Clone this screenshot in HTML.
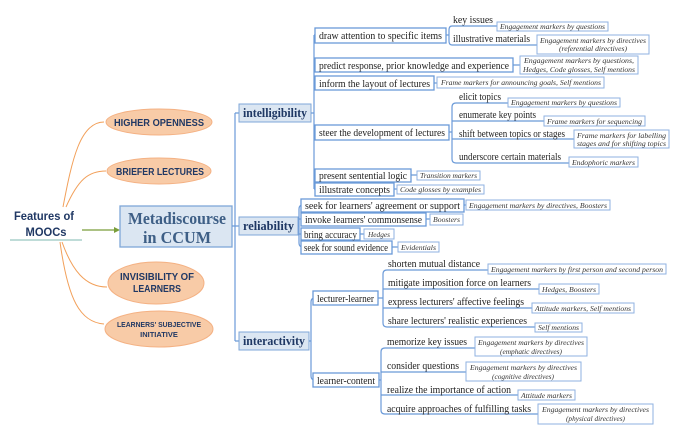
<!DOCTYPE html>
<html><head><meta charset="utf-8"><style>
html,body{margin:0;padding:0;background:#fff;}
svg{display:block;}
.b{fill:#fff;stroke:#6b9ad8;stroke-width:1.3;}
.l{fill:#fff;stroke:#8fb2e0;stroke-width:1;}
.t{font-family:"Liberation Serif",serif;font-size:10.5px;fill:#222;}
.i{font-family:"Liberation Serif",serif;font-size:7.3px;font-style:italic;fill:#333;}
.k{fill:none;stroke:#6b9ad8;stroke-width:1.2;}
.h{font-family:"Liberation Serif",serif;font-size:12.5px;font-weight:bold;fill:#1f3864;}
.e{fill:#f8cba7;stroke:#f4b183;stroke-width:1;}
.et{font-family:"Liberation Sans",sans-serif;font-weight:bold;fill:#203864;text-anchor:middle;}
.o{fill:none;stroke:#f2a05a;stroke-width:1;}
</style></head><body>
<svg width="697" height="442" viewBox="0 0 697 442" xmlns="http://www.w3.org/2000/svg">
<!-- left -->
<text x="44" y="220" class="et" font-size="11.5" textLength="60" lengthAdjust="spacingAndGlyphs">Features of</text>
<text x="46" y="236" class="et" font-size="11.5" textLength="41" lengthAdjust="spacingAndGlyphs">MOOCs</text>
<line x1="10" y1="240" x2="82" y2="240" stroke="#7fb8b0" stroke-width="1"/>
<line x1="82" y1="230" x2="118" y2="230" stroke="#7a9e3a" stroke-width="1.2"/>
<path d="M114,227 L120,230 L114,233z" fill="#7a9e3a"/>
<path class="o" d="M63,207 C72,160 80,122 104,122"/>
<path class="o" d="M66,207 C78,180 88,171 106,171"/>
<path class="o" d="M62,242 C72,270 85,287 107,287"/>
<path class="o" d="M60,242 C68,300 80,322 104,324"/>
<ellipse class="e" cx="159" cy="122" rx="53" ry="13"/>
<text x="159" y="126" class="et" font-size="10" textLength="90" lengthAdjust="spacingAndGlyphs">HIGHER OPENNESS</text>
<ellipse class="e" cx="159" cy="171" rx="52" ry="13"/>
<text x="160" y="175" class="et" font-size="10" textLength="88" lengthAdjust="spacingAndGlyphs">BRIEFER LECTURES</text>
<ellipse class="e" cx="156" cy="283" rx="48" ry="21"/>
<text x="157" y="280" class="et" font-size="10" textLength="74" lengthAdjust="spacingAndGlyphs">INVISIBILITY OF</text>
<text x="157" y="292" class="et" font-size="10" textLength="48" lengthAdjust="spacingAndGlyphs">LEARNERS</text>
<ellipse class="e" cx="159" cy="329" rx="54" ry="18"/>
<text x="159" y="327" class="et" font-size="7.5" textLength="84" lengthAdjust="spacingAndGlyphs">LEARNERS' SUBJECTIVE</text>
<text x="159" y="337" class="et" font-size="7.5">INITIATIVE</text>
<!-- center -->
<rect x="120" y="206" width="112" height="41" fill="#dbe6f2" stroke="#7fa7d8" stroke-width="1.3"/>
<text x="177" y="224" text-anchor="middle" font-family="Liberation Serif,serif" font-weight="bold" font-size="17" fill="#3e5f86" textLength="98" lengthAdjust="spacingAndGlyphs">Metadiscourse</text>
<text x="177" y="243" text-anchor="middle" font-family="Liberation Serif,serif" font-weight="bold" font-size="17" fill="#3e5f86" textLength="68" lengthAdjust="spacingAndGlyphs">in CCUM</text>
<path class="k" d="M232,226 H235 M235,113 V341 M235,113 H239 M235,226 H239 M235,341 H239"/>
<!-- level 1 -->
<rect x="239" y="104" width="72" height="18" fill="#dbe6f2" stroke="#7fa7d8"/>
<text x="243" y="117" class="h" textLength="64" lengthAdjust="spacingAndGlyphs">intelligibility</text>
<rect x="239" y="217" width="59" height="18" fill="#dbe6f2" stroke="#7fa7d8"/>
<text x="243" y="230" class="h" textLength="51" lengthAdjust="spacingAndGlyphs">reliability</text>
<rect x="239" y="332" width="70" height="18" fill="#dbe6f2" stroke="#7fa7d8"/>
<text x="243" y="345" class="h" textLength="62" lengthAdjust="spacingAndGlyphs">interactivity</text>
<!-- intelligibility bracket -->
<path class="k" d="M311,113 H314 M314,35 V189 M314,35 H315 M314,65 H315 M314,83 H315 M314,132 H315 M314,175 H315 M314,189 H315"/>
<rect class="b" x="315" y="28" width="131" height="15"/><text class="t" x="319" y="39" textLength="123" lengthAdjust="spacingAndGlyphs">draw attention to specific items</text>
<rect class="b" x="315" y="58" width="198" height="14"/><text class="t" x="319" y="69" textLength="190" lengthAdjust="spacingAndGlyphs">predict response, prior knowledge and experience</text>
<rect class="b" x="315" y="76" width="119" height="14"/><text class="t" x="319" y="87" textLength="111" lengthAdjust="spacingAndGlyphs">inform the layout of lectures</text>
<rect class="b" x="315" y="125" width="134" height="15"/><text class="t" x="319" y="136" textLength="126" lengthAdjust="spacingAndGlyphs">steer the development of lectures</text>
<rect class="b" x="315" y="169" width="96" height="13"/><text class="t" x="319" y="179" textLength="88" lengthAdjust="spacingAndGlyphs">present sentential logic</text>
<rect class="b" x="315" y="183" width="79" height="13"/><text class="t" x="319" y="193" textLength="71" lengthAdjust="spacingAndGlyphs">illustrate concepts</text>
<!-- draw attention children -->
<path class="k" d="M446,35 H449 M452,26 Q449,26 449,30 V41 Q449,45 452,45 M452,26 H497 M452,45 H537"/>
<text class="t" x="453" y="23" textLength="40" lengthAdjust="spacingAndGlyphs">key issues</text>
<text class="t" x="453" y="42" textLength="77" lengthAdjust="spacingAndGlyphs">illustrative  materials</text>
<rect class="l" x="497" y="22" width="111" height="9"/><text class="i" x="500" y="29" textLength="105" lengthAdjust="spacingAndGlyphs">Engagement markers by questions</text>
<rect class="l" x="537" y="35" width="112" height="19"/><text class="i" x="540" y="43" textLength="106" lengthAdjust="spacingAndGlyphs">Engagement markers by directives</text><text class="i" x="559" y="51" textLength="68" lengthAdjust="spacingAndGlyphs">(referential directives)</text>
<path class="k" d="M513,65 H520 M434,83 H437"/>
<rect class="l" x="520" y="56" width="118" height="18"/><text class="i" x="524" y="63" textLength="110" lengthAdjust="spacingAndGlyphs">Engagement markers by questions,</text><text class="i" x="523" y="72" textLength="112" lengthAdjust="spacingAndGlyphs">Hedges, Code glosses, Self mentions</text>
<rect class="l" x="437" y="77" width="167" height="11"/><text class="i" x="441" y="85" textLength="160" lengthAdjust="spacingAndGlyphs">Frame markers for announcing goals, Self mentions</text>
<!-- steer children -->
<path class="k" d="M449,132 H452 M456,103 Q452,103 452,107 V159 Q452,163 456,163 M452,121 H456 M452,139 H456 M456,103 H508 M456,121 H544 M456,139 H574 M456,163 H569"/>
<text class="t" x="459" y="100" textLength="42" lengthAdjust="spacingAndGlyphs">elicit topics</text>
<text class="t" x="459" y="118" textLength="77" lengthAdjust="spacingAndGlyphs">enumerate key points</text>
<text class="t" x="459" y="137" textLength="106" lengthAdjust="spacingAndGlyphs">shift between topics or stages</text>
<text class="t" x="459" y="160" textLength="102" lengthAdjust="spacingAndGlyphs">underscore certain materials</text>
<rect class="l" x="508" y="98" width="112" height="9"/><text class="i" x="511" y="105" textLength="106" lengthAdjust="spacingAndGlyphs">Engagement markers by questions</text>
<rect class="l" x="544" y="116" width="101" height="10"/><text class="i" x="547" y="124" textLength="95" lengthAdjust="spacingAndGlyphs">Frame markers for sequencing</text>
<rect class="l" x="574" y="130" width="95" height="18"/><text class="i" x="577" y="138" textLength="89" lengthAdjust="spacingAndGlyphs">Frame markers for labelling</text><text class="i" x="577" y="146" textLength="89" lengthAdjust="spacingAndGlyphs">stages and for shifting topics</text>
<rect class="l" x="569" y="157" width="69" height="10"/><text class="i" x="572" y="165" textLength="63" lengthAdjust="spacingAndGlyphs">Endophoric markers</text>
<path class="k" d="M411,175 H417 M394,189 H397"/>
<rect class="l" x="417" y="171" width="63" height="9"/><text class="i" x="420" y="178" textLength="57" lengthAdjust="spacingAndGlyphs">Transition markers</text>
<rect class="l" x="397" y="185" width="87" height="9"/><text class="i" x="400" y="192" textLength="81" lengthAdjust="spacingAndGlyphs">Code glosses by examples</text>
<!-- reliability -->
<path class="k" d="M298,226 H299 M303,205 Q299,205 299,209 V243 Q299,247 303,247 M299,219 H301 M299,234 H301"/>
<rect class="b" x="301" y="199" width="163" height="13"/><text class="t" x="305" y="209" textLength="155" lengthAdjust="spacingAndGlyphs">seek for learners' agreement or support</text>
<rect class="b" x="301" y="213" width="125" height="13"/><text class="t" x="305" y="223" textLength="117" lengthAdjust="spacingAndGlyphs">invoke learners' commonsense</text>
<rect class="b" x="301" y="228" width="59" height="12"/><text class="t" x="304" y="238" textLength="53" lengthAdjust="spacingAndGlyphs">bring accuracy</text>
<rect class="b" x="301" y="241" width="91" height="13"/><text class="t" x="304" y="251" textLength="84" lengthAdjust="spacingAndGlyphs">seek for sound evidence</text>
<path class="k" d="M464,205 H466 M426,219 H430 M360,234 H364 M392,247 H398"/>
<rect class="l" x="466" y="200" width="144" height="10"/><text class="i" x="469" y="208" textLength="138" lengthAdjust="spacingAndGlyphs">Engagement markers by directives, Boosters</text>
<rect class="l" x="430" y="214" width="33" height="11"/><text class="i" x="433" y="222" textLength="27" lengthAdjust="spacingAndGlyphs">Boosters</text>
<rect class="l" x="364" y="229" width="30" height="10"/><text class="i" x="368" y="237" textLength="22" lengthAdjust="spacingAndGlyphs">Hedges</text>
<rect class="l" x="398" y="242" width="41" height="10"/><text class="i" x="401" y="250" textLength="35" lengthAdjust="spacingAndGlyphs">Evidentials</text>
<!-- interactivity -->
<path class="k" d="M309,341 H311 M315,298 Q311,298 311,302 V376 Q311,380 315,380"/>
<rect class="b" x="313" y="291" width="65" height="14"/><text class="t" x="317" y="302" textLength="57" lengthAdjust="spacingAndGlyphs">lecturer-learner</text>
<rect class="b" x="313" y="373" width="66" height="14"/><text class="t" x="317" y="384" textLength="58" lengthAdjust="spacingAndGlyphs">learner-content</text>
<path class="k" d="M378,298 H383 M387,270 Q383,270 383,274 V323 Q383,327 387,327 M383,289 H387 M383,308 H387 M387,270 H488 M387,289 H539 M387,308 H532 M387,327 H535"/>
<text class="t" x="388" y="267" textLength="92" lengthAdjust="spacingAndGlyphs">shorten mutual distance</text>
<text class="t" x="388" y="286" textLength="143" lengthAdjust="spacingAndGlyphs">mitigate imposition force on learners</text>
<text class="t" x="388" y="305" textLength="136" lengthAdjust="spacingAndGlyphs">express lecturers' affective feelings</text>
<text class="t" x="388" y="324" textLength="139" lengthAdjust="spacingAndGlyphs">share lecturers' realistic experiences</text>
<rect class="l" x="488" y="264" width="178" height="10"/><text class="i" x="491" y="272" textLength="172" lengthAdjust="spacingAndGlyphs">Engagement markers by first person and second person</text>
<rect class="l" x="539" y="284" width="60" height="10"/><text class="i" x="542" y="292" textLength="54" lengthAdjust="spacingAndGlyphs">Hedges, Boosters</text>
<rect class="l" x="532" y="303" width="102" height="10"/><text class="i" x="535" y="311" textLength="96" lengthAdjust="spacingAndGlyphs">Attitude markers, Self mentions</text>
<rect class="l" x="535" y="323" width="47" height="9"/><text class="i" x="538" y="330" textLength="41" lengthAdjust="spacingAndGlyphs">Self mentions</text>
<path class="k" d="M379,380 H381 M385,348 Q381,348 381,352 V410 Q381,414 385,414 M381,372 H385 M381,395 H385 M385,348 H475 M385,372 H466 M385,395 H518 M385,414 H538"/>
<text class="t" x="387" y="345" textLength="80" lengthAdjust="spacingAndGlyphs">memorize key issues</text>
<text class="t" x="387" y="369" textLength="72" lengthAdjust="spacingAndGlyphs">consider questions</text>
<text class="t" x="387" y="393" textLength="124" lengthAdjust="spacingAndGlyphs">realize the importance of action</text>
<text class="t" x="387" y="412" textLength="144" lengthAdjust="spacingAndGlyphs">acquire approaches of fulfilling tasks</text>
<rect class="l" x="475" y="337" width="112" height="19"/><text class="i" x="478" y="345" textLength="106" lengthAdjust="spacingAndGlyphs">Engagement markers by directives</text><text class="i" x="500" y="354" textLength="62" lengthAdjust="spacingAndGlyphs">(emphatic directives)</text>
<rect class="l" x="466" y="362" width="115" height="19"/><text class="i" x="470" y="370" textLength="107" lengthAdjust="spacingAndGlyphs">Engagement markers by directives</text><text class="i" x="492" y="379" textLength="62" lengthAdjust="spacingAndGlyphs">(cognitive directives)</text>
<rect class="l" x="518" y="390" width="57" height="10"/><text class="i" x="521" y="398" textLength="51" lengthAdjust="spacingAndGlyphs">Attitude markers</text>
<rect class="l" x="538" y="404" width="115" height="20"/><text class="i" x="542" y="412" textLength="107" lengthAdjust="spacingAndGlyphs">Engagement markers by directives</text><text class="i" x="566" y="421" textLength="59" lengthAdjust="spacingAndGlyphs">(physical directives)</text>
</svg>
</body></html>
